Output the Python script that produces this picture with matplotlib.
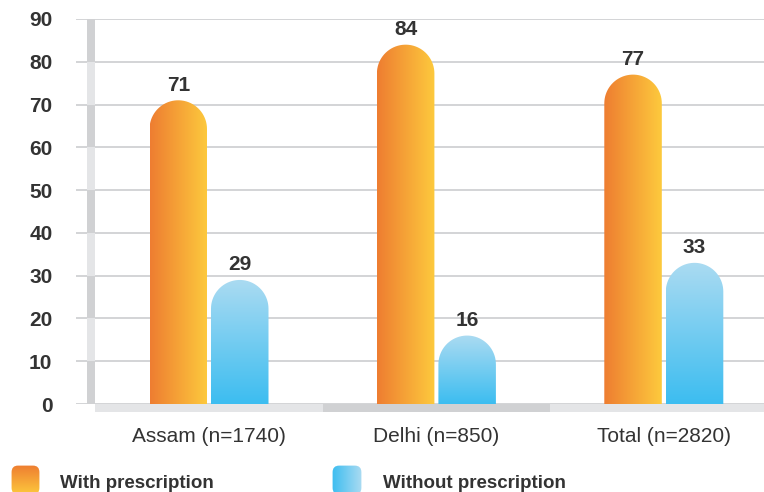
import numpy as np
import matplotlib
matplotlib.use("Agg")
import matplotlib.pyplot as plt
from matplotlib.patches import Rectangle, PathPatch, FancyBboxPatch
from matplotlib.path import Path
from matplotlib.colors import to_rgb

plt.rcParams['font.family'] = ['Liberation Sans', 'DejaVu Sans']

# Data
categories = ["Assam (n=1740)", "Delhi (n=850)", "Total (n=2820)"]
with_prescription = [71, 84, 77]
without_prescription = [29, 16, 33]
series_names = ["With prescription", "Without prescription"]
yticks = [0, 10, 20, 30, 40, 50, 60, 70, 80, 90]

TEXT = "#333333"
ORANGE_L, ORANGE_R = "#ee7d31", "#fdca3d"
BLUE_TOP, BLUE_BOT = "#abdbf2", "#3cbdf0"
WALL_DARK, WALL_LIGHT = "#d0d1d3", "#e4e5e7"

W, H = 764, 492
fig = plt.figure(figsize=(W / 100, H / 100), dpi=100)
fig.patch.set_facecolor("white")

# Axes placement in pixels
ax_l, ax_r, ax_t, ax_b = 76, 764, 19, 404
ax = fig.add_axes([ax_l / W, (H - ax_b) / H, (ax_r - ax_l) / W, (ax_b - ax_t) / H])
x_c0, x_step = 209.0, 227.4          # pixel centre of first group, group spacing
xmin = (ax_l - x_c0) / x_step
xmax = (ax_r - x_c0) / x_step
ax.set_xlim(xmin, xmax)
ax.set_ylim(0, 90)
py_per_unit = (ax_b - ax_t) / 90.0

def px_x(p):
    return (p - x_c0) / x_step

for s in ax.spines.values():
    s.set_visible(False)
ax.set_xticks([])
ax.set_yticks(yticks)
ax.set_yticklabels([str(t) for t in yticks], fontsize=15, fontweight="bold", color=TEXT)
ax.tick_params(axis="y", length=0, pad=17)
ax.grid(axis="y", color="#c8c9cb", lw=1.1, zorder=0)
ax.set_axisbelow(True)

# Side wall with alternating shades
wx0, wx1 = px_x(87), px_x(95)
for i in range(9):
    col = WALL_DARK if i % 2 == 0 else WALL_LIGHT
    ax.add_patch(Rectangle((wx0, i * 10), wx1 - wx0, 10, facecolor=col,
                           edgecolor="none", zorder=1))

# Floor strip below zero
fl_h = 8 / py_per_unit
floor_cols = [WALL_LIGHT, WALL_DARK, WALL_LIGHT]
edges = [wx1, 0.5, 1.5, xmax]
for i in range(3):
    ax.add_patch(Rectangle((edges[i], -fl_h), edges[i + 1] - edges[i], fl_h,
                           facecolor=floor_cols[i], edgecolor="none",
                           zorder=1, clip_on=False))

bar_w = 57.5 / x_step
gap = 4 / x_step
rx = bar_w / 2
ry = (57.5 / 2) / py_per_unit

def rounded_bar_path(x0, top):
    cx = x0 + rx
    base = top - ry
    verts = [(x0, 0), (x0 + bar_w, 0), (x0 + bar_w, base)]
    th = np.linspace(0, np.pi, 40)
    verts += [(cx + rx * np.cos(t), base + ry * np.sin(t)) for t in th]
    verts += [(x0, 0)]
    codes = [Path.MOVETO] + [Path.LINETO] * (len(verts) - 2) + [Path.CLOSEPOLY]
    return Path(verts, codes)

def gradient(c1, c2, n=256):
    a, b = np.array(to_rgb(c1)), np.array(to_rgb(c2))
    t = np.linspace(0, 1, n)[:, None]
    return a + (b - a) * t

def draw_bar(x0, value, kind):
    path = rounded_bar_path(x0, value)
    patch = PathPatch(path, facecolor="none", edgecolor="none", zorder=3)
    ax.add_patch(patch)
    if kind == "orange":
        img = gradient(ORANGE_L, ORANGE_R)[None, :, :]
    else:
        img = gradient(BLUE_BOT, BLUE_TOP)[:, None, :]
    im = ax.imshow(img, extent=[x0, x0 + bar_w, 0, value], origin="lower",
                   aspect="auto", zorder=3, interpolation="bilinear")
    im.set_clip_path(patch)
    ax.annotate(str(value), (x0 + rx, value), xytext=(0, 4),
                textcoords="offset points", ha="center", va="bottom",
                fontsize=15, fontweight="bold", color=TEXT, zorder=5)

for i, cat in enumerate(categories):
    draw_bar(i - gap / 2 - bar_w, with_prescription[i], "orange")
    draw_bar(i + gap / 2, without_prescription[i], "blue")
    ax.text(i, -33 / py_per_unit, cat, ha="center", va="center",
            fontsize=15, color=TEXT, clip_on=False)

ax.set_xlim(xmin, xmax)
ax.set_ylim(0, 90)

# Legend swatches with gradients
def legend_swatch(x, y, w, h, c1, c2, horizontal):
    lax = fig.add_axes([x / W, (H - y - h) / H, w / W, h / H])
    lax.set_axis_off()
    lax.set_xlim(0, 1)
    lax.set_ylim(0, 1)
    if horizontal:
        img = gradient(c1, c2)[None, :, :]
    else:
        img = gradient(c2, c1)[:, None, :]
    im = lax.imshow(img, extent=[0, 1, 0, 1], origin="lower", aspect="auto")
    box = FancyBboxPatch((0.02, 0.02), 0.96, 0.96,
                         boxstyle="round,pad=0,rounding_size=0.22",
                         facecolor="none", edgecolor="none",
                         transform=lax.transAxes)
    lax.add_patch(box)
    im.set_clip_path(box)

legend_swatch(11, 465, 29, 30, ORANGE_L, ORANGE_R, horizontal=False)
legend_swatch(332, 465, 30, 30, BLUE_BOT, BLUE_TOP, horizontal=True)
fig.text(60 / W, 1 - 483 / H, series_names[0], fontsize=13.5, fontweight="bold",
         color=TEXT, ha="left", va="center")
fig.text(383 / W, 1 - 483 / H, series_names[1], fontsize=13.5, fontweight="bold",
         color=TEXT, ha="left", va="center")

fig.savefig("out.png", dpi=100, facecolor="white")
